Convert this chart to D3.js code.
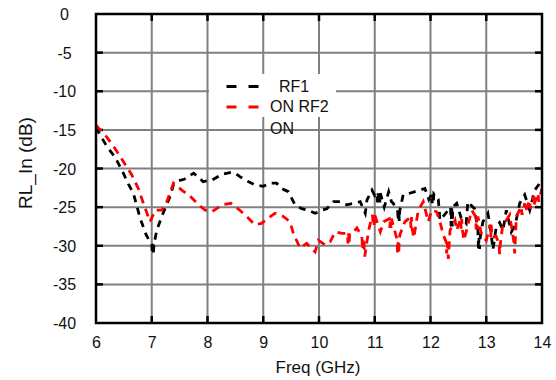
<!DOCTYPE html>
<html><head><meta charset="utf-8">
<script src="https://cdn.jsdelivr.net/npm/d3@7"></script>
<style>body{margin:0;background:#fff}svg{display:block}text{font-family:"Liberation Sans",Arial,sans-serif;fill:#111}</style>
</head><body>
<svg id="c" width="556" height="380"></svg>
<script>
const xTicks = [6,7,8,9,10,11,12,13,14];
const yTicks = [0,-5,-10,-15,-20,-25,-30,-35,-40];
const seriesNames = ["RF1", "ON RF2", "ON"];
const rf1 = [
[6.00,-14.7],[6.10,-16.0],[6.20,-17.2],[6.34,-18.5],[6.49,-20.6],[6.58,-22.0],[6.67,-23.2],[6.79,-26.4],[6.90,-28.6],[6.97,-29.5],
[7.00,-29.8],[7.01,-30.9],[7.02,-29.8],[7.03,-30.9],[7.04,-29.8],[7.09,-28.0],[7.18,-26.2],[7.33,-23.6],[7.39,-22.1],[7.48,-21.6],[7.58,-21.4],
[7.75,-20.6],[7.85,-21.2],[7.92,-21.7],[8.08,-21.5],[8.26,-20.75],[8.42,-20.5],[8.50,-20.6],[8.58,-21.05],[8.73,-21.7],[8.85,-22.1],
[9.00,-22.3],[9.12,-21.9],[9.24,-21.9],[9.33,-22.6],[9.45,-23.0],[9.57,-24.7],[9.69,-25.2],[9.81,-25.4],[9.93,-25.8],[10.05,-25.4],
[10.14,-25.2],[10.26,-24.3],[10.38,-24.3],[10.50,-24.7],[10.62,-24.5],[10.74,-24.3],[10.83,-25.8],[10.86,-24.1],[10.95,-22.8],[11.00,-23.5],
[11.04,-23.2],[11.05,-24.4],[11.06,-23.2],[11.07,-24.4],[11.08,-23.2],[11.09,-24.4],[11.10,-23.2],[11.17,-25.0],[11.25,-23.0],[11.30,-24.3],[11.33,-24.5],[11.41,-25.4],
[11.42,-26.8],[11.43,-25.4],[11.44,-26.8],[11.45,-25.4],[11.51,-23.4],[11.63,-23.2],[11.72,-23.0],[11.81,-22.8],[11.90,-22.6],[11.97,-24.0],[12.02,-23.3],
[12.03,-24.5],[12.04,-23.3],[12.05,-24.5],[12.06,-23.3],[12.14,-24.0],[12.17,-26.7],[12.25,-26.0],[12.36,-25.0],[12.37,-27.5],[12.38,-25.0],[12.39,-27.5],[12.40,-25.0],
[12.47,-24.5],[12.55,-26.4],[12.64,-27.1],[12.67,-24.3],[12.72,-24.7],[12.79,-25.2],[12.85,-28.0],[12.86,-30.4],[12.87,-29.0],[12.88,-30.4],[12.89,-29.0],
[12.94,-26.9],[13.03,-25.8],[13.08,-28.0],[13.12,-30.5],[13.18,-27.5],[13.24,-27.0],[13.30,-28.0],[13.36,-25.4],[13.45,-28.2],[13.52,-27.3],
[13.60,-24.5],[13.69,-23.4],[13.78,-25.4],[13.87,-22.8],[13.96,-21.9],[14.00,-21.5]
];
const onrf2 = [
[6.00,-14.4],[6.19,-15.9],[6.34,-17.4],[6.49,-19.1],[6.64,-20.8],[6.76,-22.6],[6.85,-24.5],[6.97,-26.9],[7.06,-25.4],[7.18,-25.4],
[7.27,-24.3],[7.39,-21.9],[7.54,-22.8],[7.69,-23.6],[7.84,-24.7],[7.96,-25.4],[8.08,-25.6],[8.26,-24.7],[8.42,-24.5],[8.58,-25.4],
[8.73,-26.4],[8.85,-27.3],[8.97,-27.1],[9.09,-26.4],[9.21,-25.8],[9.36,-26.2],[9.48,-26.9],[9.54,-28.4],[9.66,-30.3],[9.78,-29.7],
[9.93,-30.8],[9.99,-29.3],[10.11,-29.9],[10.20,-29.5],[10.29,-28.2],[10.41,-28.4],[10.51,-28.4],[10.52,-29.7],[10.53,-28.4],[10.54,-29.7],[10.55,-28.4],
[10.62,-28.2],[10.68,-27.7],[10.77,-28.8],[10.78,-30.5],[10.80,-29.0],[10.82,-31.4],[10.89,-28.0],[10.96,-26.0],[10.97,-27.3],[10.98,-26.0],[10.99,-27.3],
[11.00,-26.0],[11.10,-28.2],[11.16,-26.9],[11.26,-26.5],[11.27,-27.7],[11.28,-26.5],[11.29,-27.7],[11.30,-26.5],[11.40,-29.2],[11.41,-31.1],[11.42,-29.2],[11.43,-31.1],
[11.44,-29.2],[11.45,-28.6],[11.54,-26.9],[11.64,-26.3],[11.65,-27.7],[11.66,-26.3],[11.67,-27.7],[11.70,-29.0],[11.78,-25.4],[11.87,-24.3],[11.96,-26.9],
[12.02,-25.4],[12.11,-25.6],[12.17,-26.9],[12.23,-28.6],[12.28,-29.5],[12.29,-31.0],[12.30,-29.5],[12.32,-31.7],[12.35,-28.0],[12.44,-26.7],
[12.47,-28.0],[12.54,-26.5],[12.55,-27.8],[12.56,-26.5],[12.57,-27.8],[12.60,-29.3],[12.74,-25.4],[12.81,-26.2],[12.82,-27.9],[12.83,-26.2],[12.84,-27.9],[12.85,-26.2],
[12.92,-28.8],[13.00,-29.3],[13.07,-27.3],[13.08,-28.9],[13.09,-27.3],[13.10,-28.9],[13.18,-28.8],[13.23,-29.9],[13.24,-31.1],[13.25,-29.9],[13.30,-27.1],
[13.36,-26.7],[13.42,-26.0],[13.50,-29.7],[13.51,-31.0],[13.54,-26.2],[13.63,-24.9],[13.64,-26.0],[13.69,-24.5],[13.70,-25.6],[13.78,-24.1],[13.79,-25.2],[13.84,-23.6],[13.85,-24.8],[13.93,-23.2],[13.94,-24.3],
[14.00,-22.6]
];

const svg = d3.select("#c");
const L=96, R=542, T=14, B=323;
const x = d3.scaleLinear().domain([6,14]).range([L,R]);
const y = d3.scaleLinear().domain([-40,0]).range([B,T]);

const g = svg.append("g");
g.selectAll(".vg").data(xTicks.slice(1,-1)).enter().append("line")
 .attr("x1",d=>x(d)).attr("x2",d=>x(d)).attr("y1",T).attr("y2",B)
 .attr("stroke","#808080").attr("stroke-width",2);
g.selectAll(".hg").data(yTicks.slice(1,-1)).enter().append("line")
 .attr("y1",d=>y(d)).attr("y2",d=>y(d)).attr("x1",L).attr("x2",R)
 .attr("stroke","#808080").attr("stroke-width",2);

const tk = 7;
xTicks.slice(1,-1).forEach(d=>{
  svg.append("line").attr("x1",x(d)).attr("x2",x(d)).attr("y1",B).attr("y2",B-tk).attr("stroke","#000").attr("stroke-width",2.5);
  svg.append("line").attr("x1",x(d)).attr("x2",x(d)).attr("y1",T).attr("y2",T+tk).attr("stroke","#000").attr("stroke-width",2.5);
});
yTicks.slice(1,-1).forEach(d=>{
  svg.append("line").attr("y1",y(d)).attr("y2",y(d)).attr("x1",L).attr("x2",L+tk).attr("stroke","#000").attr("stroke-width",2.5);
  svg.append("line").attr("y1",y(d)).attr("y2",y(d)).attr("x1",R).attr("x2",R-tk).attr("stroke","#000").attr("stroke-width",2.5);
});

svg.append("rect").attr("x",209).attr("y",74).attr("width",127).attr("height",43).attr("fill","#fff");

svg.append("clipPath").attr("id","pc").append("rect").attr("x",L).attr("y",T).attr("width",R-L).attr("height",B-T);
const line = d3.line().x(d=>x(d[0])).y(d=>y(d[1]));
svg.append("path").datum(rf1).attr("d",line).attr("fill","none").attr("stroke","#000")
  .attr("stroke-width",2.8).attr("stroke-dasharray","7,6").attr("clip-path","url(#pc)");
svg.append("path").datum(onrf2).attr("d",line).attr("fill","none").attr("stroke","#ff0000")
  .attr("stroke-width",2.8).attr("stroke-dasharray","8,6").attr("clip-path","url(#pc)");

svg.append("rect").attr("x",L).attr("y",T).attr("width",R-L).attr("height",B-T)
  .attr("fill","none").attr("stroke","#000").attr("stroke-width",2.5);

const fmt = d => String(d);
const xAxis = d3.axisBottom(x).tickValues(xTicks).tickSize(0).tickPadding(0).tickFormat(fmt);
const xa = svg.append("g").attr("transform",`translate(0,${B})`).call(xAxis);
xa.select(".domain").remove();
xa.selectAll("text").attr("y",25).attr("dy",0).style("font-size","16px").attr("fill","#111")
  .style("font-family","'Liberation Sans',Arial,sans-serif");
const yAxis = d3.axisLeft(y).tickValues(yTicks).tickSize(0).tickPadding(0).tickFormat(fmt);
const ya = svg.append("g").call(yAxis);
ya.select(".domain").remove();
ya.selectAll("text").attr("x",64.5).attr("text-anchor","middle").attr("dy","0.35em").style("font-size","16px").attr("fill","#111")
  .style("font-family","'Liberation Sans',Arial,sans-serif");

svg.append("text").attr("x",318).attr("y",373).attr("text-anchor","middle").style("font-size","17px").text("Freq (GHz)");
svg.append("text").attr("transform","translate(32,163) rotate(-90)").attr("text-anchor","middle").style("font-size","19px").text("RL_In (dB)");

const lg = svg.append("g");
lg.append("line").attr("x1",226.5).attr("x2",260).attr("y1",86.5).attr("y2",86.5).attr("stroke","#000").attr("stroke-width",2.8).attr("stroke-dasharray","10,12");
lg.append("line").attr("x1",226.5).attr("x2",260).attr("y1",107).attr("y2",107).attr("stroke","#ff0000").attr("stroke-width",2.8).attr("stroke-dasharray","10,12");
lg.append("text").attr("x",279).attr("y",86.5).attr("dy","0.35em").style("font-size","16px").text(seriesNames[0]);
lg.append("text").attr("x",270).attr("y",106.5).attr("dy","0.35em").style("font-size","16px").text(seriesNames[1]);
lg.append("text").attr("x",270).attr("y",128).attr("dy","0.35em").style("font-size","16px").text(seriesNames[2]);
</script>
</body></html>
